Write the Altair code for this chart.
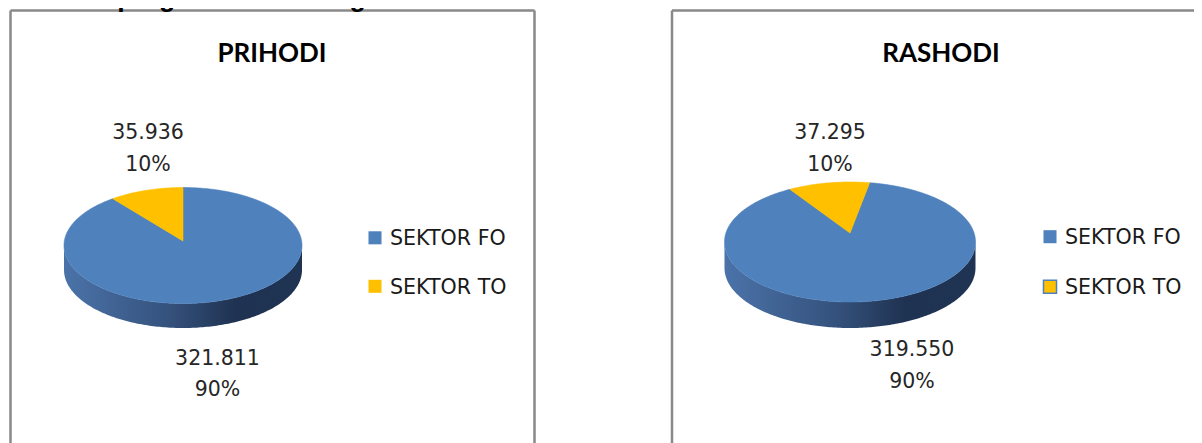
import math
import altair as alt
import pandas as pd

# ---------------- data ----------------
header = "Grafički pregled ostvarenog rezultata na nivou sektora"
panel_titles = ["PRIHODI", "RASHODI"]
sectors = ["SEKTOR FO", "SEKTOR TO"]
prihodi = [321811, 35936]
rashodi = [319550, 37295]
series = [prihodi, rashodi]
sector_colors = ["#4f81bd", "#ffc000"]

# ---------------- layout (pixels) ----------------
W, H = 1186, 435
layout = [
    dict(cx=175, cy=237.5, rx=119, ry=58, depth=24.5, lift=4.5, rot=0,
         box_left=2.5, box_right=526.5, title_x=264,
         label_pos=[(209.5, 357, 388), (140, 131, 163)],
         legend_x=367, legend_text_x=382, legend_y0=229.8, legend_dy=48.5,
         marker_stroke=["transparent", "transparent"]),
    dict(cx=842, cy=234, rx=125.5, ry=60, depth=26, lift=9, rot=9,
         box_left=664, box_right=None, title_x=933,
         label_pos=[(904, 348, 379.5), (822, 131, 163)],
         legend_x=1042, legend_text_x=1057, legend_y0=228.7, legend_dy=50,
         marker_stroke=["transparent", "#4f81bd"]),
]
box_top = 2.5
title_y = 53.7
header_x, header_y = 2, -2.5


def fmt(v):
    return f"{v:,}".replace(",", ".")


def rim(p, phi, dy=0.0):
    r = math.radians(phi)
    return p["cx"] + p["rx"] * math.sin(r), p["cy"] - p["ry"] * math.cos(r) + dy


def arc(p, a, b, dy=0.0):
    n = max(2, int(abs(b - a)) + 1)
    return [rim(p, a + (b - a) * k / n, dy) for k in range(n + 1)]


top_rows, side_rows, label_rows, legend_rows, title_rows, border_rows = [], [], [], [], [], []

for pi, (vals, p) in enumerate(zip(series, layout)):
    total = sum(vals)
    cum = 0.0
    for si, v in enumerate(vals):
        start = p["rot"] + 360.0 * cum / total
        end = start + 360.0 * v / total
        cum += v
        sid = f"{pi}-{si}"
        apex = (p["cx"], p["cy"] - p["lift"])
        pts = [apex] + arc(p, start, end) + [apex]
        for i, (x, y) in enumerate(pts):
            top_rows.append(dict(sid=sid, sector=sectors[si], i=i, x=x, y=y))
        # visible side (front half of the rim)
        for a, b in [(-270, -90), (90, 270), (450, 630)]:
            lo, hi = max(start, a), min(end, b)
            if hi > lo:
                spts = arc(p, lo, hi) + arc(p, hi, lo, p["depth"])
                for i, (x, y) in enumerate(spts):
                    side_rows.append(dict(sid=f"{sid}-{a}", sector=sectors[si], i=i, x=x, y=y))
        lx, ly1, ly2 = p["label_pos"][si]
        label_rows.append(dict(x=lx, y=ly1, text=fmt(v)))
        label_rows.append(dict(x=lx, y=ly2, text=f"{round(100 * v / total)}%"))
        ly = p["legend_y0"] + si * p["legend_dy"]
        legend_rows.append(dict(mx=p["legend_x"], tx=p["legend_text_x"], y=ly, ty=ly + 7.4,
                                sector=sectors[si], text=sectors[si],
                                mstroke=p["marker_stroke"][si]))
    title_rows.append(dict(x=p["title_x"], y=title_y, text=panel_titles[pi]))
    right = p["box_right"] if p["box_right"] is not None else W + 10
    border_rows.append(dict(x=p["box_left"], y=box_top, x2=right, y2=box_top))
    border_rows.append(dict(x=p["box_left"], y=box_top, x2=p["box_left"], y2=H + 10))
    if p["box_right"] is not None:
        border_rows.append(dict(x=right, y=box_top, x2=right, y2=H + 10))

top_df = pd.DataFrame(top_rows)
side_df = pd.DataFrame(side_rows)
label_df = pd.DataFrame(label_rows)
legend_df = pd.DataFrame(legend_rows)
title_df = pd.DataFrame(title_rows)
border_df = pd.DataFrame(border_rows)
header_df = pd.DataFrame([dict(x=header_x, y=header_y, text=header)])

xs = alt.Scale(domain=[0, W], nice=False, zero=False)
ys = alt.Scale(domain=[0, H], nice=False, zero=False, reverse=True)
cs = alt.Scale(domain=sectors, range=sector_colors)

X = lambda f="x": alt.X(f"{f}:Q", scale=xs, axis=None)
Y = lambda f="y": alt.Y(f"{f}:Q", scale=ys, axis=None)

side_grad = alt.LinearGradient(
    gradient="linear", x1=0, x2=1, y1=0, y2=0,
    stops=[alt.GradientStop(offset=0, color="#4b73a9"),
           alt.GradientStop(offset=0.45, color="#34517c"),
           alt.GradientStop(offset=0.72, color="#1f3251"),
           alt.GradientStop(offset=1, color="#1f3352")])

side = alt.Chart(side_df).mark_line(fill=side_grad, strokeOpacity=0).encode(
    x=X(), y=Y(), detail="sid:N", order="i:Q")

top = alt.Chart(top_df).mark_line(strokeWidth=0.6).encode(
    x=X(), y=Y(), detail="sid:N", order="i:Q",
    fill=alt.Fill("sector:N", scale=cs, legend=None),
    stroke=alt.Stroke("sector:N", scale=cs, legend=None))

borders = alt.Chart(border_df).mark_rule(color="#898989", strokeWidth=2.5).encode(
    x=X(), y=Y(), x2="x2:Q", y2="y2:Q")

labels = alt.Chart(label_df).mark_text(font="DejaVu Sans", fontSize=20.5, color="#262626",
                                       align="center", baseline="alphabetic").encode(
    x=X(), y=Y(), text="text:N")

titles = alt.Chart(title_df).mark_text(font="Lato", fontSize=26, fontWeight="bold",
                                       color="#000000", align="center",
                                       baseline="alphabetic").encode(
    x=X(), y=Y(), text="text:N")

markers = alt.Chart(legend_df).mark_square(size=170, filled=True, opacity=1,
                                           strokeWidth=1.5).encode(
    x=X("mx"), y=Y(), fill=alt.Fill("sector:N", scale=cs, legend=None),
    stroke=alt.Stroke("mstroke:N", scale=None))

legend_text = alt.Chart(legend_df).mark_text(font="DejaVu Sans", fontSize=20.6, color="#1a1a1a",
                                             align="left", baseline="alphabetic").encode(
    x=X("tx"), y=Y("ty"), text="text:N")

head = alt.Chart(header_df).mark_text(font="Liberation Sans", fontSize=26.8, fontWeight="bold",
                                      color="#000000", align="left",
                                      baseline="alphabetic").encode(
    x=X(), y=Y(), text="text:N")

chart = alt.layer(borders, side, top, labels, titles, markers, legend_text, head).properties(
    width=W, height=H, padding=0, autosize=alt.AutoSizeParams(type="none")
).configure_view(stroke=None)

chart.save("out.html", embed_options={"renderer": "svg", "actions": False})
